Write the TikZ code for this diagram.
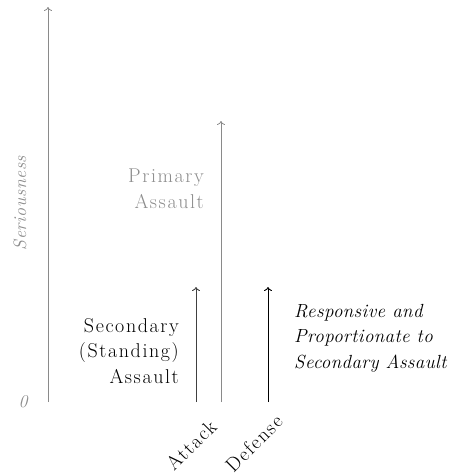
\documentclass[tikz,border=0pt]{standalone}
\usepackage{fontspec}
\setmainfont{Latin Modern Roman}[LetterSpace=8, ItalicFeatures={LetterSpace=2}]
\newfontfamily\serfont{Latin Modern Roman}[LetterSpace=3]
\usetikzlibrary{arrows.meta}
\definecolor{axisgray}{HTML}{8A8A8A}
\definecolor{txtgray}{HTML}{8C8C8C}
\begin{document}
\begin{tikzpicture}[x=1pt,y=-1pt,
  lbl/.style={font=\fontsize{20}{25.5}\selectfont, align=right, inner sep=0pt},
  itlbl/.style={lbl, font=\fontsize{19}{25.5}\selectfont\itshape},
  axlbl/.style={lbl, font=\fontsize{18}{25.5}\selectfont\serfont\itshape},
  axisline/.style={draw=axisgray, line width=0.8pt, -{To[length=4pt,width=8pt]}},
  barline/.style={line width=0.9pt, -{To[length=4pt,width=8pt]}}]
\useasboundingbox (0,0) rectangle (452,474);
% axis
\coordinate (ax0) at (48,402);
\coordinate (ax1) at (48,7);
\draw[axisline] (ax0) -- (ax1);
\node[axlbl, text=txtgray] (zero) at (23,402) {0};
\node[axlbl, text=txtgray, rotate=90] (ser) at (20,203) {Seriousness};
% attack bar
\coordinate (at0) at (196,402);
\coordinate (at1) at (196,287);
\draw[barline, draw=black!75] (at0) -- (at1);
% primary bar
\coordinate (pr0) at (221,402);
\coordinate (pr1) at (221,121);
\draw[axisline] (pr0) -- (pr1);
% defense bar
\coordinate (de0) at (268,402);
\coordinate (de1) at (268,287);
\draw[barline, draw=black] (de0) -- (de1);
% labels
\node[lbl, text=txtgray, anchor=north east] (prim) at (204,169) {Primary\\Assault};
\node[lbl, anchor=north east] (sec) at (179,318) {Secondary\\(Standing)\\Assault};
\node[itlbl, align=left, anchor=north west] (resp) at (294,304) {Responsive and\\Proportionate to\\Secondary Assault};
\node[lbl, rotate=45, anchor=base east] (attack) at (218,428) {Attack};
\node[lbl, rotate=45, anchor=base east] (defense) at (284,423) {Defense};
\end{tikzpicture}
\end{document}
